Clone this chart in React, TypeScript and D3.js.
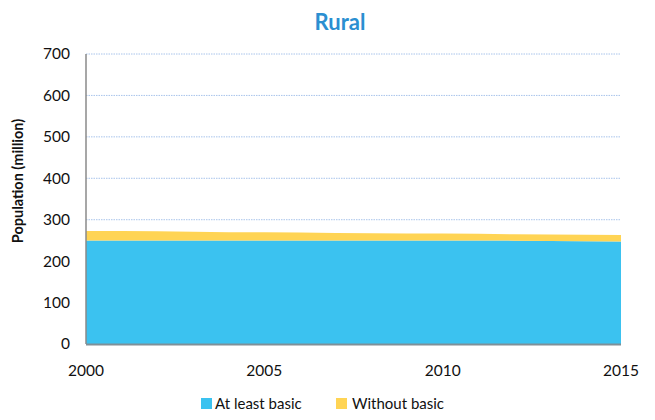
import React from 'react';
import * as d3 from 'd3';

// years on the x axis
const years = [2000, 2001, 2002, 2003, 2004, 2005, 2006, 2007, 2008, 2009, 2010, 2011, 2012, 2013, 2014, 2015];
// population in million
const atLeastBasic = [250, 250, 250, 250, 250, 250, 250, 250, 250, 250, 250, 250, 249.5, 248.5, 248, 247.5];
const withoutBasic = [23, 22.5, 22, 21, 20, 19.5, 19, 18, 17.5, 17, 16.5, 16, 15.5, 16, 15.5, 15.5];
const yTicks = [0, 100, 200, 300, 400, 500, 600, 700];
const xTicks = [2000, 2005, 2010, 2015];
const seriesNames = ['At least basic', 'Without basic'];
const colors = ['#3bc2f0', '#ffd454'];

const font = 'Lato, "Open Sans", sans-serif';

const App = () => {
  const width = 655;
  const height = 420;
  const margin = { left: 86, right: 34, top: 54, bottom: 76 };

  const x = d3.scaleLinear().domain([2000, 2015]).range([margin.left, width - margin.right]);
  const y = d3.scaleLinear().domain([0, 700]).range([height - margin.bottom, margin.top]);

  const table = years.map((yr, i) => ({ year: yr, basic: atLeastBasic[i], without: withoutBasic[i] }));
  const stacked = d3.stack<any>().keys(['basic', 'without'])(table);

  const area = d3
    .area<any>()
    .x((d) => x(d.data.year))
    .y0((d) => y(d[0]))
    .y1((d) => y(d[1]));

  const legendY = 408;

  return (
    <svg width={width} height={height} style={{ position: 'absolute', left: 0, top: 0 }}>
      <rect width={width} height={height} fill="#fff" />
      <text x={340} y={30} textAnchor="middle" fontFamily={font} fontWeight="bold" fontSize={22} fill="#2b8fd1">
        Rural
      </text>

      {/* gridlines */}
      {yTicks.slice(1).map((t) => (
        <line
          key={t}
          x1={x(2000)}
          x2={x(2015)}
          y1={y(t)}
          y2={y(t)}
          stroke="#a9c4eb"
          strokeWidth={1}
          strokeDasharray="1.5,1"
        />
      ))}

      {/* areas */}
      {stacked.map((s, i) => (
        <path key={s.key} d={area(s) as string} fill={colors[i]} />
      ))}

      {/* axes */}
      <line x1={x(2000)} x2={x(2000)} y1={y(700)} y2={y(0)} stroke="#8a8a8a" strokeWidth={1.5} />
      <line x1={x(2000)} x2={x(2015)} y1={y(0) + 0.5} y2={y(0) + 0.5} stroke="#7f9098" strokeWidth={2} />

      {yTicks.map((t) => (
        <text key={t} x={70} y={y(t)} dy="0.35em" textAnchor="end" fontFamily={font} fontSize={15.5} fill="#111">
          {t}
        </text>
      ))}
      {xTicks.map((t) => (
        <text key={t} x={x(t)} y={376} textAnchor="middle" fontFamily={font} fontSize={15.5} fill="#111">
          {t}
        </text>
      ))}

      <text
        transform={`translate(23, 181) rotate(-90)`}
        textAnchor="middle"
        fontFamily={font}
        fontWeight="bold"
        fontSize={14.5}
        fill="#111"
      >
        Population (million)
      </text>

      {/* legend */}
      <rect x={201} y={legendY - 10} width={11} height={11} fill={colors[0]} />
      <text x={215} y={legendY + 1} fontFamily={font} fontSize={15} fill="#111">
        {seriesNames[0]}
      </text>
      <rect x={336} y={legendY - 10} width={11} height={11} fill={colors[1]} />
      <text x={352} y={legendY + 1} fontFamily={font} fontSize={15} fill="#111">
        {seriesNames[1]}
      </text>
    </svg>
  );
};

export default App;
